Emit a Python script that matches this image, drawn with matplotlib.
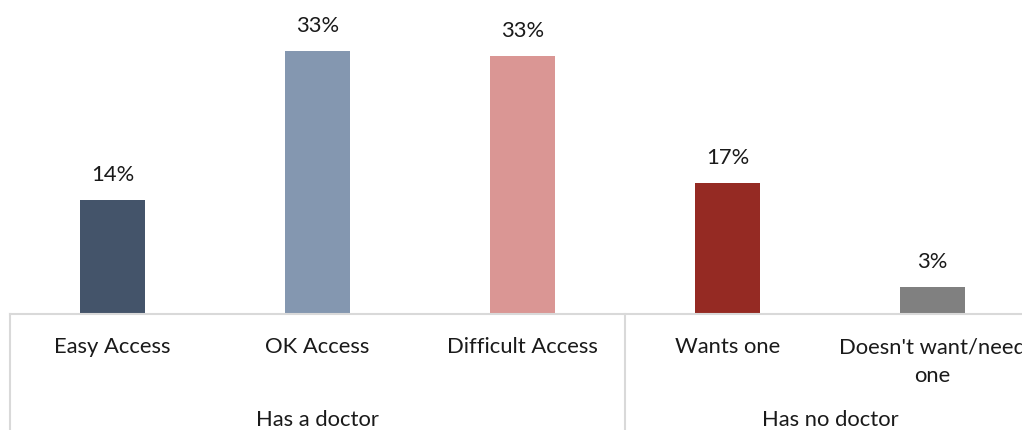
import matplotlib
matplotlib.use("Agg")
import matplotlib.pyplot as plt
import matplotlib.transforms as mtransforms

# Share of respondents by access to a family doctor
categories = ["Easy Access", "OK Access", "Difficult Access", "Wants one", "Doesn't want/need\none"]
values = [14.4, 33.3, 32.7, 16.6, 3.4]
colors = ["#44546A", "#8497B0", "#DA9694", "#952A23", "#808080"]
groups = ["Has a doctor", "Has no doctor"]
group_sizes = [3, 2]

plt.rcParams["font.family"] = ["Lato", "DejaVu Sans"]
FS = 15.8
TEXT = "#1a1a1a"
GRID = "#D9D9D9"

W, H = 1022, 430
fig = plt.figure(figsize=(W / 100, H / 100), dpi=100)
ax = fig.add_axes([10 / W, 116 / H, 1025 / W, 314 / H])

x = list(range(len(categories)))
ax.bar(x, values, width=0.317, color=colors, zorder=2)
ax.set_xlim(-0.5, len(categories) - 0.5)
ax.set_ylim(0, 39.75)

for xi, v in zip(x, values):
    ax.annotate(f"{v:.0f}%", (xi, v), xytext=(0, 18), textcoords="offset points",
                ha="center", va="center", fontsize=FS, color=TEXT)

for s in ["top", "right", "left"]:
    ax.spines[s].set_visible(False)
ax.spines["bottom"].set_color(GRID)
ax.spines["bottom"].set_linewidth(1.5)
ax.set_xticks([])
ax.set_yticks([])

trans = mtransforms.blended_transform_factory(ax.transData, ax.transAxes)
depth = -116 / 314

# category labels
for xi, c in zip(x, categories):
    ax.text(xi, -23 / 314, c, transform=trans, ha="center", va="top",
            fontsize=FS, color=TEXT, linespacing=1.55)

# group separators and labels
start = 0
bounds = [-0.5]
for g, n in zip(groups, group_sizes):
    centre = start + (n - 1) / 2
    ax.text(centre, -106 / 314, g, transform=trans, ha="center", va="center",
            fontsize=FS, color=TEXT)
    start += n
    bounds.append(start - 0.5)
for b in bounds:
    ax.plot([b, b], [0, depth], transform=trans, color=GRID, lw=1.5, clip_on=False)

fig.savefig("out.png", dpi=100)
